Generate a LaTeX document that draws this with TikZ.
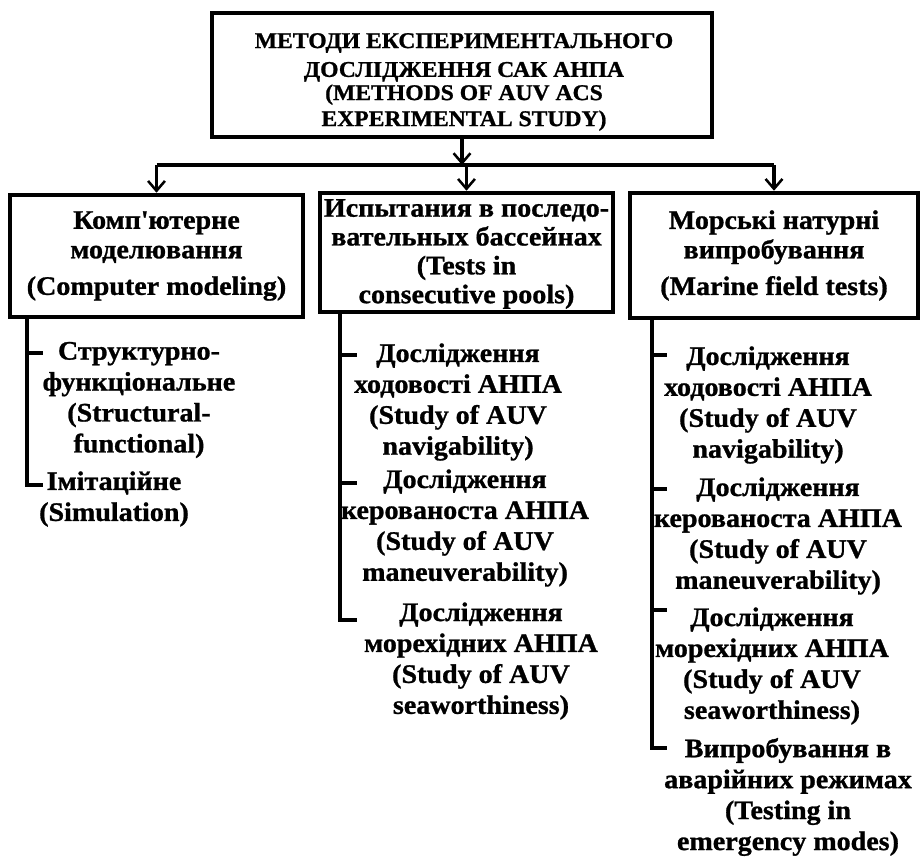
\documentclass[tikz,border=0pt]{standalone}
\usepackage{fontspec}
\setmainfont{Liberation Serif}[FakeStretch=1.05,BoldFeatures={FakeBold=1}]
\usetikzlibrary{arrows.meta}
\tikzset{
  blok/.style={draw,line width=3.2pt,inner sep=0pt,align=center,
    font=\bfseries\fontsize{19}{21}\selectfont},
  napys/.style={inner sep=0pt,align=center,
    font=\bfseries\fontsize{19}{20.5}\selectfont},
  punkt/.style={inner sep=0pt,align=center,
    font=\bfseries\fontsize{19}{22}\selectfont},
  zv/.style={line width=2.4pt},
  str/.style={zv,-{Straight Barb[length=7pt,width=12pt,line width=1.8pt]}}
}
\begin{document}
\begin{tikzpicture}[x=0.025cm,y=-0.025cm]
\useasboundingbox (0,0) rectangle (920,856);
% blocks
\node[blok,minimum width=12.5cm,minimum height=3.1cm] (metody) at (462,75) {};
\node[napys,font=\bfseries\fontsize{16}{20.5}\selectfont] (metodyt) at (464,82)
  {МЕТОДИ ЕКСПЕРИМЕНТАЛЬНОГО\\ДОСЛІДЖЕННЯ САК АНПА\\[-4pt]
   (METHODS OF AUV ACS\\[-2pt]EXPERIMENTAL STUDY)};
\node[blok,minimum width=7.325cm,minimum height=3.05cm] (komp) at (156.5,256)
  {Комп\textquotesingle ютерне\\моделювання\\[5pt](Computer modeling)};
\node[blok,minimum width=7.325cm,minimum height=2.975cm] (ispyt) at (466.5,252.5) {};
\node[napys] (ispytt) at (466.5,254)
  {Испытания в последо-\\вательных бассейнах\\(Tests in\\consecutive pools)};
\node[blok,minimum width=7.2cm,minimum height=3.125cm] (mors) at (774,255.5)
  {Морські натурні\\випробування\\[5pt](Marine field tests)};
% arrows
\coordinate (rozg) at (462,165);
\draw[str] (metody.south) -- (rozg);
\draw[zv] (komp.north |- rozg) -- (mors.north |- rozg);
\foreach \b in {komp,ispyt,mors}
  \draw[str] (\b.north |- rozg) -- (\b.north);
% column 1
\node[punkt] (k1) at (139,400)
  {Структурно-\\функціональне\\(Structural-\\functional)};
\node[punkt] (k2) at (114,499) {Імітаційне\\(Simulation)};
\coordinate (k1t) at (27,353);
\coordinate (k2t) at (27,485);
\draw[zv] (komp.south -| k2t) -- (k2t) -- ++(16,0);
\draw[zv] (k1t) -- ++(16,0);
% column 2
\node[punkt] (i1) at (458,402)
  {Дослідження\\ходовості АНПА\\(Study of AUV\\navigability)};
\node[punkt] (i2) at (465,528)
  {Дослідження\\керованоста АНПА\\(Study of AUV\\maneuverability)};
\node[punkt] (i3) at (481,661)
  {Дослідження\\морехідних АНПА\\(Study of AUV\\seaworthiness)};
\coordinate (i1t) at (340,355);
\coordinate (i2t) at (340,483);
\coordinate (i3t) at (340,620);
\draw[zv] (ispyt.south -| i3t) -- (i3t) -- ++(17,0);
\foreach \t in {i1t,i2t}
  \draw[zv] (\t) -- ++(17,0);
% column 3
\node[punkt] (m1) at (768,405)
  {Дослідження\\ходовості АНПА\\(Study of AUV\\navigability)};
\node[punkt] (m2) at (778,536)
  {Дослідження\\керованоста АНПА\\(Study of AUV\\maneuverability)};
\node[punkt] (m3) at (772,666)
  {Дослідження\\морехідних АНПА\\(Study of AUV\\seaworthiness)};
\node[punkt] (m4) at (788,797)
  {Випробування в\\аварійних режимах\\(Testing in\\emergency modes)};
\coordinate (m1t) at (652,355);
\coordinate (m2t) at (652,489);
\coordinate (m3t) at (652,610);
\coordinate (m4t) at (652,748);
\draw[zv] (mors.south -| m4t) -- (m4t) -- ++(15,0);
\foreach \t in {m1t,m2t,m3t}
  \draw[zv] (\t) -- ++(15,0);
\end{tikzpicture}
\end{document}
